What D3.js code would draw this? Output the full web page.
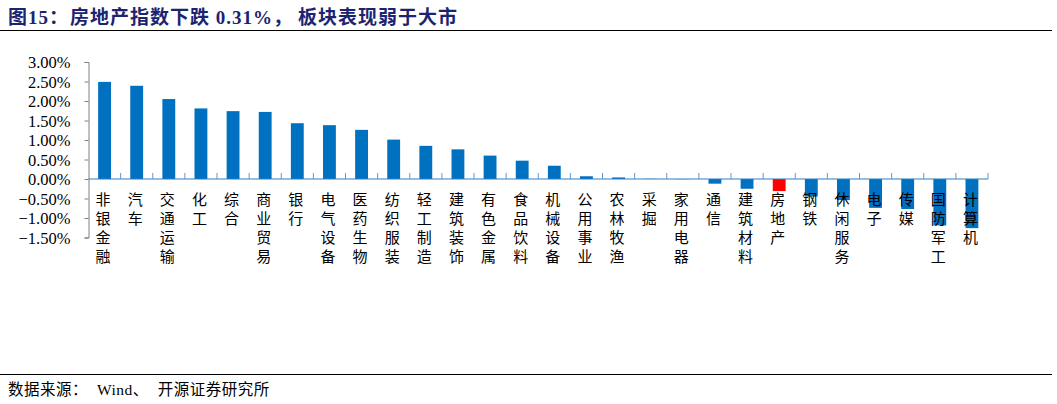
<!DOCTYPE html>
<html><head><meta charset="utf-8">
<script src="https://cdn.jsdelivr.net/npm/d3@7"></script>
<style>
body{margin:0;background:#fff;}
</style></head>
<body>
<svg id="chart" width="1057" height="404"></svg>
<script>
const categories = ["非银金融","汽车","交通运输","化工","综合","商业贸易","银行","电气设备","医药生物","纺织服装","轻工制造","建筑装饰","有色金属","食品饮料","机械设备","公用事业","农林牧渔","采掘","家用电器","通信","建筑材料","房地产","钢铁","休闲服务","电子","传媒","国防军工","计算机"];
const values = [2.49,2.39,2.05,1.81,1.74,1.72,1.43,1.38,1.26,1.01,0.85,0.76,0.60,0.47,0.34,0.07,0.04,0.005,-0.005,-0.12,-0.25,-0.31,-0.45,-0.54,-0.74,-0.77,-1.19,-1.26];
const yTicks = [3.0,2.5,2.0,1.5,1.0,0.5,0.0,-0.5,-1.0,-1.5];
const highlight = "房地产";
const titleParts = ["图15：","房地产指数下跌 0.31%，","板块表现弱于大市"];
const sourceParts = ["数据来源：","Wind","、","开源证券研究所"];

const svg = d3.select("#chart");
const serif = "'Liberation Serif','Times New Roman',serif";
const mixed = "'Liberation Serif','Noto Sans CJK SC',serif";
const cjk = "'Noto Sans CJK SC',sans-serif";

// title
const tt = svg.append("text").attr("x",8).attr("y",24).attr("fill","#1c2472")
  .attr("font-family",mixed).attr("font-weight","bold").attr("font-size",19)
  .attr("letter-spacing",1);
const tdx = [0,1,5];
titleParts.forEach((p,i)=>tt.append("tspan").attr("dx",tdx[i]).text(p));
svg.append("line").attr("x1",0).attr("x2",1052).attr("y1",30.5).attr("y2",30.5).attr("stroke","#000").attr("stroke-width",1.2);
svg.append("line").attr("x1",0).attr("x2",1052).attr("y1",374.5).attr("y2",374.5).attr("stroke","#000").attr("stroke-width",1);
const st = svg.append("text").attr("x",8).attr("y",395).attr("fill","#000")
  .attr("font-family",mixed).attr("font-size",15.5).attr("letter-spacing",0.5);
const sdx = [0,9,0,9];
sourceParts.forEach((p,i)=>st.append("tspan").attr("dx",sdx[i]).text(p));

const left = 88.5, right = 988;
const x = d3.scaleBand().domain(categories).range([left,right]).paddingInner(0.6).paddingOuter(0.3);
const xb = d3.scaleBand().domain(categories).range([left,right]);
const y = d3.scaleLinear().domain([-1.5,3]).range([237.5,62]);

// y axis
const yAxis = d3.axisLeft(y).tickValues(yTicks).tickSize(4).tickFormat(d=>d3.format(".2f")(d)+"%");
const gy = svg.append("g").attr("transform",`translate(${left},0)`).call(yAxis);
gy.selectAll("path,line").attr("stroke","#808080");
gy.selectAll("text").attr("font-family",serif).attr("font-size",16.5).attr("fill","#000").attr("x",-18).attr("dy","0.35em");

// bars
svg.append("g").selectAll("rect").data(categories).join("rect")
  .attr("x",d=>x(d)).attr("width",x.bandwidth())
  .attr("y",(d,i)=>y(Math.max(0,values[i])))
  .attr("height",(d,i)=>Math.abs(y(values[i])-y(0)))
  .attr("fill",d=>d===highlight?"#ff0000":"#0070c0");

// x axis line with boundary ticks above
const gx = svg.append("g");
gx.append("line").attr("x1",left).attr("x2",right).attr("y1",y(0)).attr("y2",y(0)).attr("stroke","#2f7fc8").attr("stroke-width",1.2);
gx.selectAll("line.tk").data(categories.map(c=>xb(c)+xb.bandwidth())).join("line")
  .attr("class","tk").attr("x1",d=>d).attr("x2",d=>d).attr("y1",y(0)-6).attr("y2",y(0))
  .attr("stroke","#5b9bd5").attr("stroke-width",1);

// category labels (vertical)
const lab = svg.append("g");
categories.forEach((c)=>{
  const cx = xb(c)+xb.bandwidth()/2-1.5;
  Array.from(c).forEach((ch,j)=>{
    lab.append("text").attr("x",cx).attr("y",200+j*19).attr("dy","0.35em")
      .attr("text-anchor","middle").attr("font-family",cjk).attr("font-size",15).attr("fill","#000").text(ch);
  });
});
</script>
</body></html>
